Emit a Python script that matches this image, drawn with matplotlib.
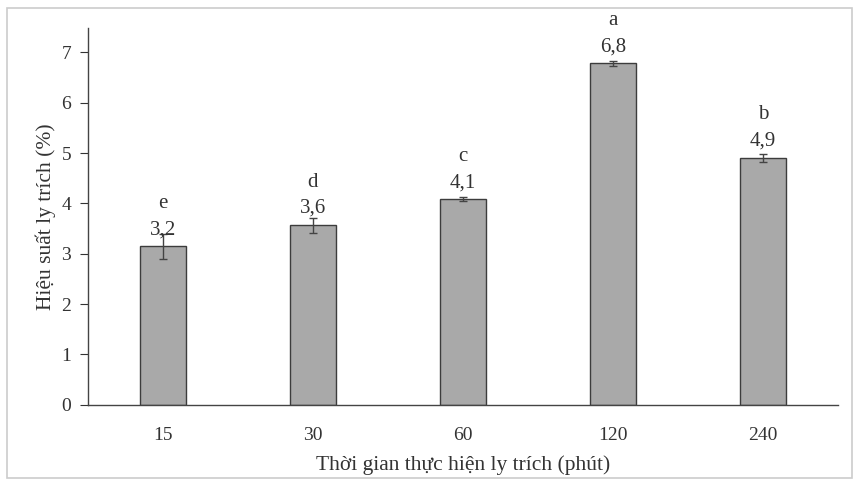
import matplotlib as mpl
mpl.use('Agg')
import matplotlib.pyplot as plt
import matplotlib.patches as mpatches
import numpy as np

# data
times   = ['15', '30', '60', '120', '240']
yields  = [3.15, 3.57, 4.08, 6.78, 4.91]
errs    = [0.25, 0.15, 0.04, 0.05, 0.08]
labels  = ['3,2', '3,6', '4,1', '6,8', '4,9']
letters = ['e', 'd', 'c', 'a', 'b']

plt.rcParams['font.family'] = ['Liberation Serif', 'DejaVu Serif']

fig = plt.figure(figsize=(8.61, 4.86), dpi=100)
ax = fig.add_axes([0.102, 0.167, 0.871, 0.775])

x = np.arange(len(times))
ax.bar(x, yields, width=0.31, color='#a9a9a9', edgecolor='#3c3c3c', linewidth=1.0,
       yerr=errs, error_kw=dict(ecolor='#444444', elinewidth=1.0, capsize=3, capthick=1.0))

for xi, yi, lab, let in zip(x, yields, labels, letters):
    ax.text(xi, yi + 0.33, lab, ha='center', va='center', fontsize=15, color='#333333')
    ax.text(xi, yi + 0.85, let, ha='center', va='center', fontsize=15, color='#333333')

ax.set_xlim(-0.5, 4.5)
ax.set_ylim(0, 7.48)
ax.set_yticks(range(0, 8))
ax.set_xticks(x)
ax.set_xticklabels(times)
ax.tick_params(axis='y', direction='out', length=6, labelsize=14, colors='#333333', pad=6)
ax.tick_params(axis='x', length=0, labelsize=14, colors='#333333', pad=16)
for s in ['top', 'right']:
    ax.spines[s].set_visible(False)
for s in ['left', 'bottom']:
    ax.spines[s].set_color('#444444')
    ax.spines[s].set_linewidth(1.0)

ax.set_ylabel('Hiệu suất ly trích (%)', fontsize=15.5, color='#333333', labelpad=4)
ax.set_xlabel('Thời gian thực hiện ly trích (phút)', fontsize=15.5, color='#333333', labelpad=8)

# light frame round the chart
fig.patches.append(mpatches.Rectangle((7/861, 8/486), 845/861, 470/486,
                                      transform=fig.transFigure, fill=False,
                                      edgecolor='#cccccc', linewidth=1.2))

fig.savefig('out.png', dpi=100)
